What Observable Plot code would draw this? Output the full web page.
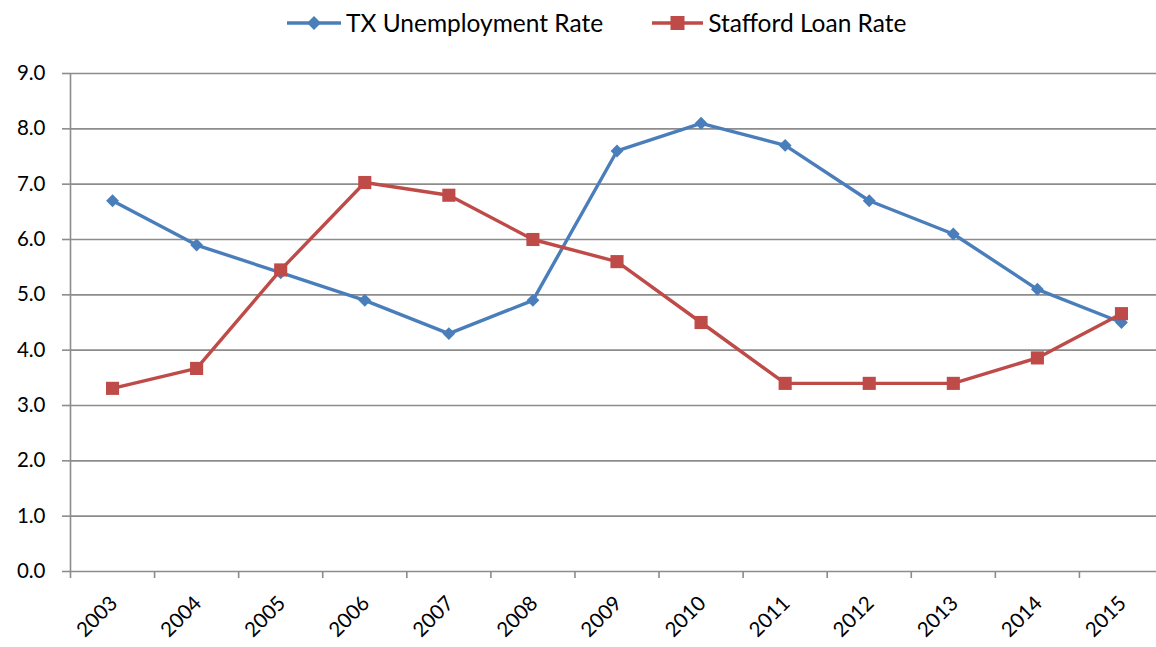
<!DOCTYPE html>
<html>
<head>
<meta charset="utf-8">
<script src="https://cdn.jsdelivr.net/npm/d3@7"></script>
<script src="https://cdn.jsdelivr.net/npm/@observablehq/plot@0.6"></script>
<style>
  html, body { margin: 0; padding: 0; background: #fff; overflow: hidden; }
  #wrap { position: relative; width: 1156px; height: 647px; font-family: Lato, "Open Sans", sans-serif; }
  #legend { position: absolute; top: 2px; left: 287px; display: flex; align-items: center; font-size: 24.5px; color: #000; line-height: 42px; }
  .item { display: flex; align-items: center; }
  .item svg { margin-right: 5px; }
  .item + .item { margin-left: 49px; }
</style>
</head>
<body>
<div id="wrap">
  <div id="legend"></div>
  <div id="chart"></div>
</div>
<script>
const years = [2003, 2004, 2005, 2006, 2007, 2008, 2009, 2010, 2011, 2012, 2013, 2014, 2015];
const txUnemployment = [6.7, 5.9, 5.4, 4.9, 4.3, 4.9, 7.6, 8.1, 7.7, 6.7, 6.1, 5.1, 4.5];
const staffordLoan = [3.31, 3.67, 5.45, 7.03, 6.80, 6.00, 5.60, 4.50, 3.40, 3.40, 3.40, 3.86, 4.66];
const yTicks = [0, 1, 2, 3, 4, 5, 6, 7, 8, 9];
const seriesNames = ["TX Unemployment Rate", "Stafford Loan Rate"];
const seriesColors = ["#4A7EBB", "#BE4B48"];

const blue = seriesColors[0], red = seriesColors[1];
const grid = "#8C8C8C";

const tx = years.map((year, i) => ({year, value: txUnemployment[i]}));
const st = years.map((year, i) => ({year, value: staffordLoan[i]}));
const boundaries = [...years.map(y => y - 0.5), years[years.length - 1] + 0.5];

const chart = Plot.plot({
  width: 1156,
  height: 647,
  marginTop: 73,
  marginBottom: 76,
  marginLeft: 70,
  marginRight: 0,
  style: {fontFamily: "Lato, 'Open Sans', sans-serif", fontSize: "20px", color: "#000", background: "#fff"},
  x: {domain: [boundaries[0], boundaries[boundaries.length - 1]], range: [70, 1163]},
  y: {domain: [0, 9]},
  marks: [
    Plot.ruleY(yTicks, {y: d => d, stroke: grid, strokeWidth: 1.6}),
    Plot.ruleX([boundaries[0]], {x: d => d, y1: 0, y2: 9, stroke: grid, strokeWidth: 1.6}),
    Plot.axisY(yTicks, {tickSize: 8, tickPadding: 17, stroke: grid, strokeWidth: 1.6, fill: "#000",
      tickFormat: d => d.toFixed(1), fontSize: 20.5, label: null}),
    Plot.axisX(boundaries, {tickSize: 7, stroke: grid, strokeWidth: 1.6, tickFormat: () => "", label: null}),
    Plot.text(years, {x: d => d, y: 0, text: d => String(d), rotate: -45, textAnchor: "end",
      dx: 6, dy: 33, fontSize: 20.5, fill: "#000", lineAnchor: "bottom"}),
    Plot.line(tx, {x: "year", y: "value", stroke: blue, strokeWidth: 3.4}),
    Plot.line(st, {x: "year", y: "value", stroke: red, strokeWidth: 3.4}),
    Plot.dot(tx, {x: "year", y: "value", symbol: "diamond2", r: 5.8, fill: blue, stroke: null}),
    Plot.dot(st, {x: "year", y: "value", symbol: "square", r: 7.4, fill: red, stroke: null})
  ]
});
document.getElementById("chart").appendChild(chart);

const legend = document.getElementById("legend");
const lineLens = [54, 51];
seriesNames.forEach((name, i) => {
  const item = document.createElement("div");
  item.className = "item";
  const c = seriesColors[i];
  const w = lineLens[i], m = w / 2;
  const marker = i === 0
    ? `<path d="M${m},14 L${m + 7},21 L${m},28 L${m - 7},21 Z" fill="${c}"/>`
    : `<rect x="${m - 7}" y="14" width="14" height="14" fill="${c}"/>`;
  item.innerHTML = `<svg width="${w}" height="42" viewBox="0 0 ${w} 42"><line x1="0" y1="21" x2="${w}" y2="21" stroke="${c}" stroke-width="3.4"/>${marker}</svg><span>${name}</span>`;
  legend.appendChild(item);
});
</script>
</body>
</html>
